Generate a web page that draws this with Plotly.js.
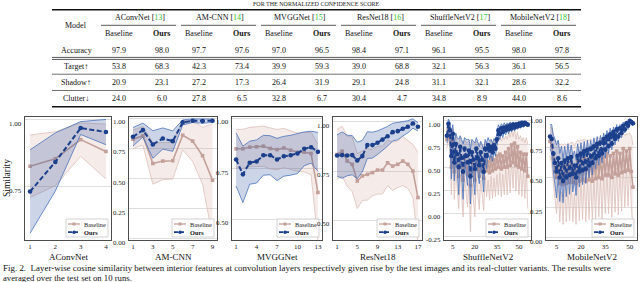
<!DOCTYPE html>
<html><head><meta charset="utf-8">
<script src="https://cdn.plot.ly/plotly-3.0.1.min.js"></script>
<style>html,body{margin:0;padding:0;background:#fff;overflow:hidden}#chart{width:640px;height:282px}</style>
</head><body><div id="chart"></div>
<script>
// ---------- table data ----------
const modelNames = ['AConvNet','AM-CNN','MVGGNet','ResNet18','ShuffleNetV2','MobileNetV2'];
const modelRefs = ['13','14','15','16','17','18'];
const rowLabels = ['Accuracy','Target\u2191','Shadow\u2191','Clutter\u2193'];
const accuracyBase = [97.9,97.7,97.0,98.4,96.1,98.0];
const accuracyOurs = [98.0,97.6,96.5,97.1,95.5,97.8];
const targetBase = [53.8,42.3,39.9,39.0,32.1,36.1];
const targetOurs = [68.3,73.4,59.3,68.8,56.3,56.5];
const shadowBase = [20.9,27.2,26.4,29.1,31.1,28.6];
const shadowOurs = [23.1,17.3,31.9,24.8,32.1,32.2];
const clutterBase = [24.0,27.8,32.8,30.4,34.8,44.0];
const clutterOurs = [6.0,6.5,6.7,4.7,8.9,8.6];

// ---------- layer-wise similarity (mean and std) ----------
const aconvBaseMean = [0.827,0.855,0.926,0.882];
const aconvBaseSd   = [0.116,0.100,0.062,0.102];
const aconvOursMean = [0.733,0.843,0.969,0.954];
const aconvOursSd   = [0.155,0.108,0.024,0.047];

const amBaseMean = [0.827,0.855,0.625,0.645,0.648,0.860,0.812,0.690,0.485];
const amBaseSd   = [0.077,0.077,0.172,0.155,0.152,0.122,0.170,0.236,0.470];
const amOursMean = [0.847,0.903,0.783,0.833,0.811,0.967,0.981,0.978,0.981];
const amOursSd   = [0.077,0.058,0.115,0.088,0.085,0.021,0.015,0.018,0.014];

const mvBaseMean = [0.849,0.849,0.857,0.859,0.862,0.851,0.845,0.853,0.842,0.832,0.832,0.826,0.632];
const mvBaseSd   = [0.095,0.097,0.098,0.100,0.100,0.102,0.100,0.097,0.095,0.095,0.098,0.105,0.240];
const mvOursMean = [0.796,0.722,0.780,0.786,0.817,0.817,0.796,0.812,0.817,0.826,0.849,0.857,0.834];
const mvOursSd   = [0.132,0.140,0.107,0.107,0.099,0.097,0.105,0.099,0.099,0.100,0.084,0.079,0.097];

const resBaseMean = [0.834,0.851,0.801,0.784,0.699,0.725,0.733,0.742,0.755,0.755,0.792,0.775,0.784,0.801,0.784,0.750,0.615];
const resBaseSd   = [0.127,0.127,0.127,0.139,0.140,0.125,0.131,0.118,0.122,0.122,0.117,0.123,0.118,0.125,0.122,0.135,0.230];
const resOursMean = [0.829,0.831,0.829,0.831,0.804,0.826,0.882,0.882,0.894,0.910,0.927,0.948,0.953,0.965,0.975,0.992,0.975];
const resOursSd   = [0.105,0.118,0.103,0.100,0.093,0.080,0.068,0.066,0.060,0.055,0.050,0.045,0.044,0.037,0.031,0.024,0.021];

const shuffleBaseMean = [0.80,0.90,0.82,0.50,0.78,0.45,0.66,0.52,0.40,0.62,0.50,0.36,0.60,0.50,0.42,0.56,0.30,0.55,0.45,0.36,0.58,0.48,0.40,0.56,0.46,0.38,0.58,0.46,0.56,0.44,0.60,0.46,0.58,0.48,0.62,0.50,0.64,0.48,0.62,0.50,0.66,0.50,0.70,0.52,0.74,0.55,0.76,0.52,0.72,0.50,0.66,0.48,0.64,0.46,0.64,0.40];
const shuffleBaseSd   = [0.10,0.08,0.12,0.30,0.14,0.30,0.18,0.25,0.35,0.20,0.28,0.40,0.20,0.26,0.35,0.22,0.50,0.22,0.30,0.40,0.20,0.28,0.36,0.20,0.28,0.35,0.20,0.28,0.20,0.30,0.20,0.30,0.20,0.30,0.20,0.30,0.20,0.30,0.20,0.30,0.18,0.30,0.18,0.30,0.16,0.28,0.15,0.28,0.16,0.30,0.18,0.30,0.18,0.30,0.18,0.35];
const shuffleOursMean = [0.84,0.97,0.90,0.62,0.86,0.55,0.75,0.64,0.50,0.72,0.60,0.45,0.70,0.62,0.55,0.68,0.40,0.66,0.58,0.48,0.70,0.60,0.52,0.66,0.58,0.45,0.70,0.62,0.74,0.68,0.72,0.66,0.74,0.70,0.80,0.90,0.86,0.92,0.88,0.93,0.90,0.94,0.91,0.95,0.92,0.96,0.93,0.96,0.94,0.97,0.95,0.98,0.96,0.98,0.97,0.96];
const shuffleOursSd   = [0.08,0.05,0.08,0.25,0.10,0.20,0.12,0.18,0.30,0.12,0.20,0.30,0.12,0.18,0.25,0.12,0.30,0.14,0.20,0.28,0.12,0.18,0.20,0.12,0.16,0.22,0.10,0.14,0.08,0.10,0.08,0.10,0.07,0.08,0.07,0.06,0.06,0.05,0.06,0.05,0.05,0.04,0.05,0.04,0.04,0.03,0.04,0.03,0.03,0.03,0.03,0.02,0.03,0.02,0.02,0.02];

const mobileBaseMean = [0.80,0.76,0.66,0.55,0.50,0.60,0.45,0.58,0.44,0.60,0.45,0.60,0.46,0.62,0.46,0.56,0.45,0.64,0.47,0.64,0.48,0.66,0.47,0.65,0.48,0.66,0.47,0.65,0.49,0.68,0.50,0.66,0.49,0.67,0.52,0.70,0.52,0.68,0.50,0.70,0.53,0.72,0.52,0.70,0.54,0.74,0.55,0.72,0.56,0.74,0.55,0.42];
const mobileBaseSd   = [0.12,0.15,0.20,0.25,0.30,0.20,0.32,0.20,0.33,0.18,0.32,0.18,0.32,0.17,0.33,0.20,0.34,0.17,0.33,0.17,0.33,0.16,0.34,0.16,0.33,0.16,0.34,0.16,0.33,0.15,0.33,0.16,0.34,0.15,0.32,0.15,0.32,0.15,0.33,0.14,0.32,0.14,0.33,0.14,0.32,0.13,0.30,0.14,0.30,0.13,0.30,0.35];
const mobileOursMean = [0.84,0.82,0.70,0.62,0.55,0.66,0.50,0.62,0.47,0.64,0.50,0.66,0.52,0.67,0.53,0.60,0.50,0.68,0.55,0.70,0.56,0.72,0.57,0.73,0.60,0.74,0.62,0.76,0.66,0.78,0.68,0.79,0.70,0.82,0.73,0.84,0.76,0.86,0.78,0.88,0.82,0.90,0.84,0.91,0.87,0.93,0.90,0.95,0.93,0.97,0.96,0.95];
const mobileOursSd   = [0.10,0.12,0.15,0.20,0.22,0.15,0.20,0.14,0.18,0.12,0.16,0.12,0.16,0.10,0.15,0.12,0.15,0.10,0.13,0.09,0.12,0.08,0.12,0.08,0.10,0.07,0.10,0.07,0.09,0.06,0.08,0.06,0.08,0.05,0.07,0.05,0.06,0.05,0.05,0.04,0.05,0.04,0.04,0.03,0.04,0.03,0.03,0.02,0.03,0.02,0.02,0.02];

const xTickVals = [[1,2,3,4],[1,3,5,7,9],[1,4,7,10,13],[1,5,9,13,17],[5,20,35,50],[5,20,35,50]];
const yTickVals = [[0.75,1.00],[0,0.25,0.5,0.75,1.0],[0.5,0.75,1.0],[0.5,0.75,1.0],[-0.25,0,0.25,0.5,0.75,1.0],[0,0.25,0.5,0.75,1.0]];

// ---------- geometry / styles ----------
const W = 640, H = 282;
const X = px => px / W, Y = py => 1 - py / H;
const SERIF = 'Liberation Serif, Times New Roman, serif';
const panelPx = [[25,111],[129,217],[232,322],[333,422],[444,531],[546,637]];
const plotTop = 117, plotBottom = 240;
const xRanges = [[0.8,4.2],[0.6,9.45],[0.4,13.6],[0.2,17.8],[-1,58.2],[-1.5,54.5]];
const yRanges = [[0.553,1.01],[-0.012,1.012],[0.396,1.007],[0.399,1.025],[-0.29,1.043],[-0.02,1.003]];

const C = {
  baseLine:'#c4a09a', baseEdge:'#dcc0ba', baseFill:'rgba(205,160,150,0.20)',
  oursLine:'#1b3f8b', oursEdge:'#4a72bb', oursFill:'rgba(40,80,155,0.24)'
};

const panels = [
  [aconvBaseMean,aconvBaseSd,aconvOursMean,aconvOursSd],
  [amBaseMean,amBaseSd,amOursMean,amOursSd],
  [mvBaseMean,mvBaseSd,mvOursMean,mvOursSd],
  [resBaseMean,resBaseSd,resOursMean,resOursSd],
  [shuffleBaseMean,shuffleBaseSd,shuffleOursMean,shuffleOursSd],
  [mobileBaseMean,mobileBaseSd,mobileOursMean,mobileOursSd]
];

const traces = [];
const layout = {
  width:W, height:H, margin:{l:0,r:0,t:0,b:0}, showlegend:false,
  paper_bgcolor:'#fff', plot_bgcolor:'#fff',
  font:{family:SERIF, color:'#111'},
  shapes:[], annotations:[]
};

panels.forEach((p, i) => {
  const [bm, bs, om, os] = p;
  const xa = i === 0 ? 'x' : 'x' + (i + 1);
  const ya = i === 0 ? 'y' : 'y' + (i + 1);
  const xs = bm.map((_, k) => k + 1);
  const band = (m, s, edge, fill) => {
    traces.push({x:xs, y:m.map((v,k)=>v+s[k]), xaxis:xa, yaxis:ya, mode:'lines',
      line:{color:edge, width:0.8}, hoverinfo:'skip'});
    traces.push({x:xs, y:m.map((v,k)=>v-s[k]), xaxis:xa, yaxis:ya, mode:'lines',
      line:{color:edge, width:0.8}, fill:'tonexty', fillcolor:fill, hoverinfo:'skip'});
  };
  band(bm, bs, C.baseEdge, C.baseFill);
  traces.push({x:xs, y:bm, xaxis:xa, yaxis:ya, mode:'lines+markers',
    line:{color:C.baseLine, width:1.6}, marker:{symbol:'square', size:3.6, color:C.baseLine}});
  band(om, os, C.oursEdge, C.oursFill);
  traces.push({x:xs, y:om, xaxis:xa, yaxis:ya, mode:'lines+markers',
    line:{color:C.oursLine, width:2, dash:'5px,2.5px'}, marker:{symbol:'circle', size:4.6, color:C.oursLine}});

  const [l, r] = panelPx[i];
  const axBase = {showline:true, mirror:true, linecolor:'#4d4d4d', linewidth:1, zeroline:false,
    ticks:'', fixedrange:true};
  layout[i === 0 ? 'xaxis' : 'xaxis' + (i + 1)] = Object.assign({}, axBase, {
    domain:[X(l), X(r)], range:xRanges[i], anchor:ya, showgrid:false,
    tickmode:'array', tickvals:xTickVals[i], tickfont:{family:SERIF, size:7, color:'#222'}
  });
  layout[i === 0 ? 'yaxis' : 'yaxis' + (i + 1)] = Object.assign({}, axBase, {
    domain:[Y(plotBottom), Y(plotTop)], range:yRanges[i], anchor:xa,
    showgrid:true, gridcolor:'#d6d6d6', gridwidth:0.8, tickmode:'array', tickvals:yTickVals[i],
    showticklabels:false
  });

  // y tick labels (drawn slightly below their grid lines, as in the original)
  yTickVals[i].forEach(v => layout.annotations.push({xref:'paper', yref:ya, x:X(l - 1), y:v, yshift:-4,
    text:(v < 0 ? '-' : '') + Math.abs(v).toFixed(2), showarrow:false, xanchor:'right', yanchor:'middle',
    font:{family:SERIF, size:7, color:'#222'}}));

  // panel title
  layout.annotations.push({xref:'paper', yref:'paper', x:X((l + r) / 2), y:Y(257), text:modelNames[i],
    showarrow:false, font:{family:SERIF, size:9, color:'#111'}, xanchor:'center', yanchor:'middle'});

  // manual legend (lower right)
  const bw = 42, bh = 18, bx1 = r - 3, bx0 = bx1 - bw, by1 = plotBottom - 3, by0 = by1 - bh;
  layout.shapes.push({type:'rect', xref:'paper', yref:'paper', x0:X(bx0), x1:X(bx1), y0:Y(by1), y1:Y(by0),
    line:{color:'#c8c8c8', width:0.8}, fillcolor:'rgba(255,255,255,0.85)', layer:'above'});
  const e1 = by0 + 5, e2 = by0 + 13.2;
  layout.shapes.push({type:'line', xref:'paper', yref:'paper', x0:X(bx0 + 2), x1:X(bx0 + 14), y0:Y(e1), y1:Y(e1),
    line:{color:C.baseLine, width:1.3}, layer:'above'});
  layout.shapes.push({type:'rect', xref:'paper', yref:'paper', x0:X(bx0 + 6.5), x1:X(bx0 + 9.5), y0:Y(e1 + 1.5), y1:Y(e1 - 1.5),
    line:{width:0}, fillcolor:C.baseLine, layer:'above'});
  layout.shapes.push({type:'line', xref:'paper', yref:'paper', x0:X(bx0 + 2), x1:X(bx0 + 14), y0:Y(e2), y1:Y(e2),
    line:{color:C.oursLine, width:1.8, dash:'4px,2px'}, layer:'above'});
  layout.shapes.push({type:'circle', xref:'paper', yref:'paper', x0:X(bx0 + 6.2), x1:X(bx0 + 9.8), y0:Y(e2 + 1.8), y1:Y(e2 - 1.8),
    line:{width:0}, fillcolor:C.oursLine, layer:'above'});
  layout.annotations.push({xref:'paper', yref:'paper', x:X(bx0 + 15.5), y:Y(e1), text:'Baseline', showarrow:false,
    xanchor:'left', yanchor:'middle', font:{family:SERIF, size:6.3, color:'#222'}});
  layout.annotations.push({xref:'paper', yref:'paper', x:X(bx0 + 15.5), y:Y(e2), text:'<b>Ours</b>', showarrow:false,
    xanchor:'left', yanchor:'middle', font:{family:SERIF, size:6.3, color:'#111'}});
});

// y-axis title
layout.annotations.push({xref:'paper', yref:'paper', x:X(7), y:Y(178), text:'Similarity', textangle:-90,
  showarrow:false, xanchor:'center', yanchor:'middle', font:{family:SERIF, size:9.5, color:'#111'}});

// caption
layout.annotations.push({xref:'paper', yref:'paper', x:X(1), y:Y(267.5), xanchor:'left', yanchor:'middle', showarrow:false,
  text:'Fig. 2.  Layer-wise cosine similarity between interior features at convolution layers respectively given rise by the test images and its real-clutter variants. The results were',
  font:{family:SERIF, size:8.95, color:'#111'}});
layout.annotations.push({xref:'paper', yref:'paper', x:X(1), y:Y(277.5), xanchor:'left', yanchor:'middle', showarrow:false,
  text:'averaged over the test set on 10 runs.', font:{family:SERIF, size:8.7, color:'#111'}});

// ---------- table ----------
const tFont = {family:SERIF, size:8, color:'#111'};
const tableL = 52, tableR = 581;
const baseCol = i => 119 + 80 * i, oursCol = i => 161.5 + 80 * i;
const txt = (px, py, text, font) => layout.annotations.push({xref:'paper', yref:'paper', x:X(px), y:Y(py), text,
  showarrow:false, xanchor:'center', yanchor:'middle', font:font || tFont});
const hline = (x0, x1, py, w) => layout.shapes.push({type:'line', xref:'paper', yref:'paper', x0:X(x0), x1:X(x1),
  y0:Y(py), y1:Y(py), line:{color:'#111', width:w}});

txt(316, 3.6, 'FOR THE NORMALIZED CONFIDENCE SCORE', {family:SERIF, size:6, color:'#222'});
hline(tableL, tableR, 9.8, 1.6);
txt(76, 25.5, 'Model');
modelNames.forEach((m, i) => {
  txt(140 + 80 * i, 17.5, m + ' [<span style="color:#2fc42f">' + modelRefs[i] + '</span>]');
  hline(101 + 80 * i, 176 + 80 * i, 25.3, 0.7);
  txt(baseCol(i), 33.5, 'Baseline');
  txt(oursCol(i), 33.5, '<b>Ours</b>');
});
const rowData = [[accuracyBase,accuracyOurs],[targetBase,targetOurs],[shadowBase,shadowOurs],[clutterBase,clutterOurs]];
const rowY = [50, 66, 82.3, 98.7];
rowData.forEach((rd, j) => {
  txt(76, rowY[j], rowLabels[j]);
  rd[0].forEach((v, i) => txt(baseCol(i), rowY[j], v.toFixed(1)));
  rd[1].forEach((v, i) => txt(oursCol(i), rowY[j], v.toFixed(1)));
});
hline(tableL, tableR, 57.4, 0.7);
hline(tableL, tableR, 59.4, 0.7);
hline(tableL, tableR, 74.2, 0.6);
hline(tableL, tableR, 90.5, 0.6);
hline(tableL, tableR, 106.8, 1.6);

Plotly.newPlot('chart', traces, layout, {staticPlot:true, displayModeBar:false});
</script></body></html>
